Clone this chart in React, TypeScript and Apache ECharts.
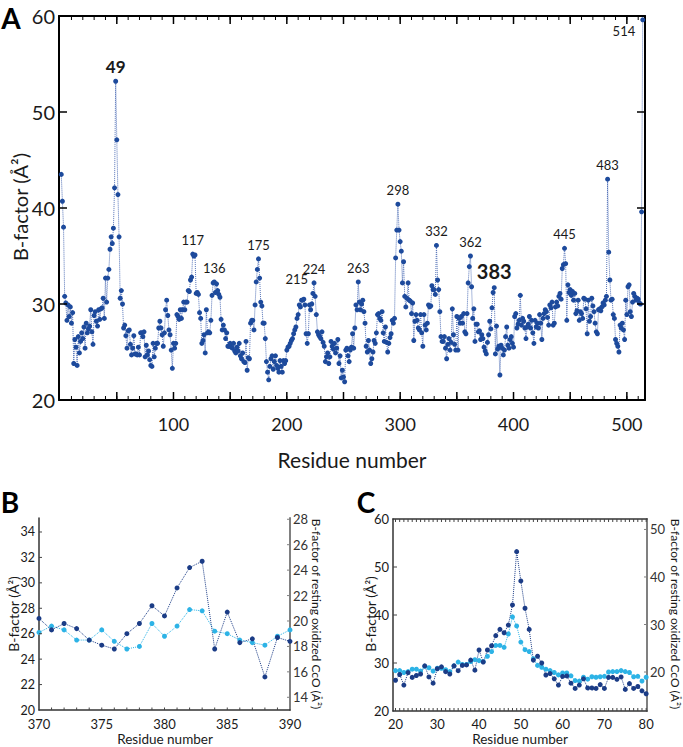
import React, { useEffect, useRef } from "react";
import * as echarts from "echarts";

// ---------- DATA ----------
// Panel A: B-factor per residue (residues 1..514), stored in segments
const bFactorA_001_019 = [43.5, 40.7, 38.0, 30.8, 30.1, 28.3, 29.9, 28.7, 29.7, 28.0, 29.1, 23.8, 26.3, 25.5, 23.6, 26.6, 24.9, 26.1, 27.0];
// Panel C (residues 20..80): dark = this structure, light = resting oxidized CcO
const residuesC_start = 20;
const bFactorC_dark = [
  26.4, 27.6, 25.4, 28.0, 27.0, 27.4, 27.7, 29.4, 27.1, 25.8,
  28.8, 29.2, 28.2, 27.7, 29.4, 28.4, 29.5, 29.6, 30.6, 28.5,
  32.7, 30.2, 32.7, 33.6, 35.7, 37.0, 36.3, 37.9, 42.1, 53.2,
  47.1, 41.4, 37.0, 30.6, 31.4, 30.0, 27.5, 27.8, 26.7, 25.4,
  27.2, 27.3, 25.8, 24.7, 25.4, 26.7, 24.8, 24.8, 24.7, 25.5,
  24.7, 27.0, 27.0, 26.6, 27.1, 24.5, 25.7, 24.7, 25.1, 24.2,
  23.6,
];
const bFactorC_light = [
  20.3, 20.3, 19.9, 20.1, 20.6, 20.6, 20.2, 21.2, 20.9, 20.2,
  20.8, 20.8, 20.5, 20.1, 21.3, 22.1, 21.6, 21.6, 22.2, 22.6,
  22.4, 22.2, 23.3, 24.3, 25.6, 25.6, 25.2, 28.0, 31.6, 29.7,
  26.3, 24.7, 24.3, 22.8, 21.4, 21.0, 20.6, 20.3, 19.9, 19.4,
  19.8, 19.8, 19.2, 18.2, 18.1, 18.9, 18.5, 19.0, 18.9, 19.0,
  19.1, 20.0, 20.1, 20.1, 20.3, 20.1, 19.9, 19.0, 19.1, 18.1,
  18.9,
];
const bFactorA_081_150 = [
  23.5, 25.9, 24.5, 25.4, 25.9, 25.9, 27.5, 28.2, 27.5, 26.8,
  25.6, 27.0, 29.4, 30.4, 28.8, 27.3, 26.8, 25.2, 23.3, 25.9,
  25.4, 25.9, 28.9, 28.7, 28.4, 29.4, 28.5, 29.4, 30.2, 29.4,
  30.2, 30.2, 31.4, 31.3, 32.5, 32.8, 35.2, 35.0, 35.1, 31.1,
  31.2, 31.0, 29.1, 28.5, 25.9, 26.2, 26.8, 24.9, 29.4, 27.0,
  27.1, 27.0, 28.3, 30.9, 32.2, 32.3, 31.2, 32.1, 31.4, 31.0,
  30.7, 28.4, 27.3, 27.8, 27.3, 26.4, 27.0, 25.6, 25.6, 25.9,
];
const bFactorA_151_200 = [
  25.5, 25.4, 25.9, 25.1, 24.9, 25.5, 25.1, 25.9, 24.6, 24.3,
  24.9, 24.0, 23.9, 26.1, 23.1, 24.4, 24.3, 28.0, 28.3, 28.3,
  27.3, 29.9, 32.3, 33.6, 34.7, 32.7, 30.2, 29.8, 28.0, 28.0,
  26.4, 24.0, 22.9, 22.1, 23.5, 24.3, 24.6, 23.2, 24.0, 24.6,
  23.6, 23.3, 22.9, 24.1, 23.5, 22.9, 24.1, 23.8, 24.1, 25.2,
];
const bFactorA_201_250 = [
  25.5, 25.6, 25.9, 26.2, 26.4, 26.9, 27.3, 27.6, 28.5, 28.9,
  29.9, 29.7, 30.4, 30.4, 30.5, 29.9, 26.9, 25.9, 26.9, 29.9,
  29.4, 30.0, 31.1, 32.2, 30.8, 28.9, 27.1, 26.8, 26.6, 26.4,
  27.1, 26.0, 25.6, 24.0, 24.5, 24.9, 23.8, 24.5, 26.1, 25.6,
  25.3, 25.9, 24.9, 25.4, 26.3, 23.8, 24.6, 22.3, 23.1, 22.4,
];
const bFactorA_251_300 = [
  21.9, 25.2, 25.4, 24.6, 24.0, 25.2, 25.5, 26.9, 25.4, 27.5,
  29.9, 29.4, 32.3, 30.2, 29.4, 30.0, 30.4, 29.2, 28.0, 25.6,
  25.0, 26.2, 25.2, 23.8, 24.3, 25.0, 26.2, 25.9, 27.0, 28.9,
  29.0, 28.5, 28.3, 29.2, 27.0, 26.1, 27.6, 26.0, 25.0, 25.9,
  26.5, 26.9, 28.3, 28.0, 28.5, 34.8, 37.7, 40.4, 37.7, 36.5,
];
const bFactorA_301_350 = [
  35.5, 32.2, 34.4, 30.8, 29.7, 30.6, 32.2, 30.4, 30.3, 29.0,
  30.1, 26.2, 28.2, 28.9, 28.3, 27.5, 27.3, 28.9, 27.0, 25.6,
  28.9, 27.8, 27.3, 28.0, 29.9, 29.7, 29.8, 31.9, 31.5, 31.5,
  31.0, 36.1, 32.5, 31.5, 29.2, 26.6, 26.1, 26.1, 26.6, 25.4,
  24.3, 25.8, 26.4, 25.2, 26.0, 29.5, 26.8, 25.8, 25.2, 28.7,
];
const bFactorA_351_369 = [25.2, 28.5, 28.0, 28.7, 28.0, 29.0, 27.1, 26.9, 29.0, 32.2, 33.9, 35.0, 31.8, 28.5, 29.5, 26.1, 27.9, 27.9, 27.1];
// Panel B (residues 370..390)
const residuesB_start = 370;
const bFactorB_dark = [27.2, 26.3, 26.8, 26.4, 25.5, 25.1, 24.8, 26.0, 26.8, 28.2, 27.4, 29.6, 31.2, 31.7, 24.8, 27.7, 25.3, 25.6, 22.6, 25.7, 25.4];
const bFactorB_light = [19.1, 19.6, 19.3, 18.5, 18.5, 19.3, 18.4, 17.8, 18.0, 19.8, 18.8, 19.6, 20.9, 20.8, 19.2, 19.0, 18.5, 18.3, 18.1, 18.8, 19.3];
const bFactorA_391_514 = [
  24.7, 25.2, 26.6, 27.6, 25.7, 25.4, 26.3, 26.6, 25.9, 25.5,
  28.7, 29.0, 27.5, 27.9, 28.3, 30.9, 27.8, 28.5, 28.2, 27.5,
  26.4, 27.6, 27.9, 28.7, 27.5, 28.3, 27.0, 25.9, 28.3, 27.6,
  28.0, 27.5, 28.9, 28.0, 26.3, 28.5, 29.0, 29.4, 29.2, 28.6,
  27.8, 29.9, 29.6, 30.2, 27.8, 28.0, 29.7, 30.2, 29.8, 30.8,
  31.1, 30.5, 33.7, 34.1, 35.8, 34.2, 28.3, 32.0, 31.2, 31.5,
  30.9, 31.3, 30.4, 31.1, 29.0, 29.3, 30.4, 28.3, 29.2, 29.0,
  28.5, 30.6, 30.5, 29.5, 26.9, 30.4, 28.2, 28.7, 30.6, 29.8,
  29.2, 28.0, 27.1, 26.9, 29.4, 29.5, 29.3, 29.7, 30.1, 29.9,
  30.4, 30.8, 43.0, 35.4, 32.5, 30.4, 30.5, 28.9, 28.5, 26.3,
  25.9, 25.6, 25.0, 27.8, 27.5, 28.0, 27.3, 26.3, 30.4, 28.9,
  31.8, 32.0, 29.2, 28.7, 30.2, 31.1, 30.8, 30.4, 30.6, 30.5,
  30.1, 30.0, 39.6, 59.6,
];

const bFactorA = [
  ...bFactorA_001_019, ...bFactorC_dark, ...bFactorA_081_150, ...bFactorA_151_200,
  ...bFactorA_201_250, ...bFactorA_251_300, ...bFactorA_301_350, ...bFactorA_351_369,
  ...bFactorB_dark, ...bFactorA_391_514,
];

// Peak annotations in panel A (residue numbers)
const peakResidues = [49, 117, 136, 175, 215, 224, 263, 298, 332, 362, 383, 445, 483, 514];
const boldPeaks = [49, 383];

// Tick labels / tick positions
const ticksA_x = [100, 200, 300, 400, 500];
const ticksA_y = [20, 30, 40, 50, 60];
const ticksA_yInner = [30, 40, 50];
const ticksB_yLeft = [20, 22, 24, 26, 28, 30, 32, 34];
const ticksB_yRight = [14, 16, 18, 20, 22, 24, 26, 28];
const ticksB_x = [370, 375, 380, 385, 390];
const ticksC_x = [20, 30, 40, 50, 60, 70, 80];
const ticksC_yLeft = [20, 30, 40, 50, 60];
const ticksC_yRight = [20, 30, 40, 50];

const minorA_x = Array.from({ length: 51 }, (_, i) => (i + 1) * 10);
const majorA_x = Array.from({ length: 10 }, (_, i) => (i + 1) * 50);
const minorB_x = Array.from({ length: 19 }, (_, i) => 371 + i);
const minorC_x = Array.from({ length: 61 }, (_, i) => 20 + i);

const FONT = 'Lato, "Liberation Sans", "DejaVu Sans", sans-serif';
const DARK = "#1d4a9c";
const DARK_LINE = "#5573b8";
const NAVY = "#1b3c86";
const CYAN = "#2db3e6";

const X_A: [number, number] = [-1, 516];
const X_B: [number, number] = [370, 390];
const X_C: [number, number] = [19.4, 80.2];

type Side = "bottom" | "top" | "left" | "right";

function tickSeries(xi: number, yi: number, values: number[], side: Side, edge: number, len: number, color = "#000", width = 1) {
  const horiz = side === "bottom" || side === "top";
  return {
    type: "custom",
    xAxisIndex: xi,
    yAxisIndex: yi,
    silent: true,
    clip: false,
    z: 10,
    data: values.map((v) => (horiz ? [v, edge] : [edge, v])),
    renderItem: (_params: any, api: any) => {
      const p = api.coord([api.value(0), api.value(1)]);
      let x2 = p[0];
      let y2 = p[1];
      if (side === "bottom") y2 -= len;
      else if (side === "top") y2 += len;
      else if (side === "left") x2 += len;
      else x2 -= len;
      return {
        type: "line",
        shape: { x1: p[0], y1: p[1], x2, y2 },
        style: { stroke: color, lineWidth: width },
      };
    },
  };
}

export default function App() {
  const ref = useRef<HTMLDivElement>(null);

  useEffect(() => {
    if (!ref.current) return;
    const chart = echarts.init(ref.current, undefined, { renderer: "svg" });

    const dataA = bFactorA.map((v, i) => {
      const r = i + 1;
      if (peakResidues.includes(r)) {
        const bold = boldPeaks.includes(r);
        let position: any = "top";
        let offset = [0, 0];
        if (r === 514) { position = "left"; offset = [0, 11]; }
        if (r === 215) { offset = [-7, -6]; }
        return {
          value: [r, v],
          label: {
            show: true,
            formatter: String(r),
            position,
            offset,
            distance: bold ? 4 : 5,
            fontFamily: FONT,
            fontSize: r === 383 ? 20 : bold ? 17 : 13,
            fontWeight: bold ? "bold" : "normal",
            color: "#1a1a1a",
          },
        };
      }
      return [r, v];
    });
    const dataB_dark = bFactorB_dark.map((v, i) => [residuesB_start + i, v]);
    const dataB_light = bFactorB_light.map((v, i) => [residuesB_start + i, v]);
    const dataC_dark = bFactorC_dark.map((v, i) => [residuesC_start + i, v]);
    const dataC_light = bFactorC_light.map((v, i) => [residuesC_start + i, v]);

    const lbl = (size: number, extra: any = {}) => ({
      fontFamily: FONT, fontSize: size, color: "#1a1a1a", ...extra,
    });
    const base = { type: "value", splitLine: { show: false }, axisTick: { show: false } };
    const line = (color: string, width: number) => ({ show: true, onZero: false, lineStyle: { color, width } });

    const option: any = {
      animation: false,
      backgroundColor: "#fff",
      grid: [
        { left: 59, top: 16, width: 586, height: 384 },
        { left: 39, top: 518, width: 251, height: 192 },
        { left: 393, top: 519, width: 254, height: 192 },
      ],
      xAxis: [
        { ...base, gridIndex: 0, min: X_A[0], max: X_A[1], position: "bottom", axisLine: line("#000", 2),
          axisLabel: { ...lbl(18), customValues: ticksA_x, margin: 15 } },
        { ...base, gridIndex: 0, min: X_A[0], max: X_A[1], position: "top", axisLine: line("#000", 2),
          axisLabel: { show: false } },
        { ...base, gridIndex: 1, min: X_B[0], max: X_B[1], position: "bottom", axisLine: line("#333", 1.5),
          axisLabel: { ...lbl(13), customValues: ticksB_x, margin: 7 } },
        { ...base, gridIndex: 2, min: X_C[0], max: X_C[1], position: "bottom", axisLine: line("#333", 1.5),
          axisLabel: { ...lbl(13), customValues: ticksC_x, margin: 6 } },
        { ...base, gridIndex: 2, min: X_C[0], max: X_C[1], position: "top", axisLine: line("#333", 1.5),
          axisLabel: { show: false } },
      ],
      yAxis: [
        { ...base, gridIndex: 0, min: 20, max: 60, position: "left", axisLine: line("#000", 2),
          axisLabel: { ...lbl(20), customValues: ticksA_y, margin: 4 } },
        { ...base, gridIndex: 0, min: 20, max: 60, position: "right", axisLine: line("#000", 2),
          axisLabel: { show: false } },
        { ...base, gridIndex: 1, min: 20, max: 35.1, position: "left", axisLine: line("#333", 1.5),
          axisLabel: { ...lbl(12.5), customValues: ticksB_yLeft, margin: 4 } },
        { ...base, gridIndex: 1, min: 13, max: 28.1, position: "right", axisLine: line("#808080", 2),
          axisLabel: { ...lbl(13, { color: "#333" }), customValues: ticksB_yRight, margin: 3 } },
        { ...base, gridIndex: 2, min: 20, max: 60, position: "left", axisLine: line("#333", 1.5),
          axisLabel: { ...lbl(13), customValues: ticksC_yLeft, margin: 4 } },
        { ...base, gridIndex: 2, min: 11.8, max: 52.2, position: "right", axisLine: line("#808080", 2),
          axisLabel: { ...lbl(13, { color: "#333" }), customValues: ticksC_yRight, margin: 3 } },
      ],
      series: [
        {
          type: "line", xAxisIndex: 0, yAxisIndex: 0, data: dataA, showAllSymbol: true,
          symbol: "circle", symbolSize: 5, itemStyle: { color: DARK },
          lineStyle: { type: "dotted", width: 1, color: DARK_LINE }, z: 3,
        },
        {
          type: "line", xAxisIndex: 2, yAxisIndex: 3, data: dataB_light, symbol: "circle", symbolSize: 5,
          itemStyle: { color: CYAN }, lineStyle: { type: "dotted", width: 1, color: CYAN },
        },
        {
          type: "line", xAxisIndex: 2, yAxisIndex: 2, data: dataB_dark, symbol: "circle", symbolSize: 5,
          itemStyle: { color: NAVY }, lineStyle: { type: "dotted", width: 1, color: NAVY },
        },
        {
          type: "line", xAxisIndex: 3, yAxisIndex: 5, data: dataC_light, symbol: "circle", symbolSize: 5,
          itemStyle: { color: CYAN }, lineStyle: { type: "dotted", width: 1, color: CYAN },
        },
        {
          type: "line", xAxisIndex: 3, yAxisIndex: 4, data: dataC_dark, symbol: "circle", symbolSize: 5,
          itemStyle: { color: NAVY }, lineStyle: { type: "dotted", width: 1, color: NAVY },
        },
        // Tick marks (inside), panel A
        tickSeries(0, 0, minorA_x, "bottom", 20, 4),
        tickSeries(0, 0, majorA_x, "bottom", 20, 8, "#000", 1.5),
        tickSeries(0, 0, minorA_x, "top", 60, 4),
        tickSeries(0, 0, majorA_x, "top", 60, 8, "#000", 1.5),
        tickSeries(0, 0, ticksA_yInner, "left", X_A[0], 8, "#000", 1.5),
        tickSeries(0, 0, ticksA_yInner, "right", X_A[1], 8, "#000", 1.5),
        // panel B
        tickSeries(2, 2, minorB_x, "bottom", 20, 2.5, "#444"),
        tickSeries(2, 2, ticksB_yLeft.slice(1), "left", X_B[0], 3, "#444"),
        tickSeries(2, 3, ticksB_yRight, "right", X_B[1], 3, "#808080"),
        // panel C
        tickSeries(3, 4, minorC_x, "bottom", 20, 3, "#444"),
        tickSeries(3, 4, minorC_x, "top", 60, 3, "#444"),
        tickSeries(3, 4, ticksC_yLeft.slice(1, 4), "left", X_C[0], 4, "#444"),
        tickSeries(3, 5, ticksC_yRight, "right", X_C[1], 3, "#808080"),
      ],
      graphic: [
        { type: "text", x: 11, y: 18, style: { text: "A", font: `bold 28px ${FONT}`, fill: "#000", textAlign: "center", textVerticalAlign: "middle" } },
        { type: "text", x: 10, y: 502, style: { text: "B", font: `bold 28px ${FONT}`, fill: "#000", textAlign: "center", textVerticalAlign: "middle" } },
        { type: "text", x: 366, y: 502, style: { text: "C", font: `bold 28px ${FONT}`, fill: "#000", textAlign: "center", textVerticalAlign: "middle" } },
        { type: "text", x: 20, y: 207, rotation: Math.PI / 2, style: { text: "B-factor (Å²)", font: `20px ${FONT}`, fill: "#1a1a1a", textAlign: "center", textVerticalAlign: "middle" } },
        { type: "text", x: 352, y: 459, style: { text: "Residue number", font: `21px ${FONT}`, fill: "#1a1a1a", textAlign: "center", textVerticalAlign: "middle" } },
        { type: "text", x: 13, y: 614, rotation: Math.PI / 2, style: { text: "B-factor (Å²)", font: `14px ${FONT}`, fill: "#1a1a1a", textAlign: "center", textVerticalAlign: "middle" } },
        { type: "text", x: 316, y: 614, rotation: -Math.PI / 2, style: { text: "B-factor of resting oxidized CcO (Å²)", font: `12px ${FONT}`, fill: "#1a1a1a", textAlign: "center", textVerticalAlign: "middle" } },
        { type: "text", x: 165, y: 739, style: { text: "Residue number", font: `13.5px ${FONT}`, fill: "#1a1a1a", textAlign: "center", textVerticalAlign: "middle" } },
        { type: "text", x: 370, y: 614, rotation: Math.PI / 2, style: { text: "B-factor (Å²)", font: `14px ${FONT}`, fill: "#1a1a1a", textAlign: "center", textVerticalAlign: "middle" } },
        { type: "text", x: 675, y: 614, rotation: -Math.PI / 2, style: { text: "B-factor of resting oxidized CcO (Å²)", font: `12px ${FONT}`, fill: "#1a1a1a", textAlign: "center", textVerticalAlign: "middle" } },
        { type: "text", x: 520, y: 739, style: { text: "Residue number", font: `13.5px ${FONT}`, fill: "#1a1a1a", textAlign: "center", textVerticalAlign: "middle" } },
      ],
    };

    chart.setOption(option);
    return () => chart.dispose();
  }, []);

  return (
    <div
      ref={ref}
      style={{ position: "absolute", left: 0, top: 0, width: 683, height: 747, background: "#fff" }}
    />
  );
}
